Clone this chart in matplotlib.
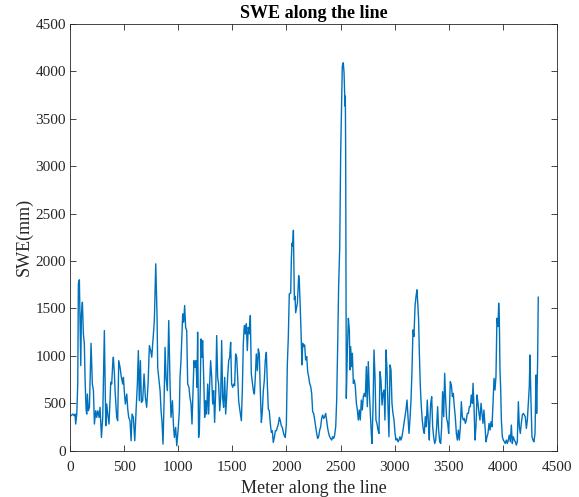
import matplotlib
matplotlib.use('Agg')
import matplotlib.pyplot as plt

# distance along the line (m) and SWE (mm)
meters = [9, 25, 37, 46, 52, 62, 71, 77, 86, 92, 99, 105, 114, 123, 132, 139, 148, 154, 160, 169,
          179, 194, 206, 216, 225, 237, 246, 256, 268, 277, 290, 302, 317, 330, 339, 348, 360, 370, 376, 385,
          394, 400, 410, 416, 431, 440, 450, 462, 474, 487, 493, 502, 511, 524, 533, 542, 554, 564, 573, 585,
          598, 610, 622, 631, 640, 650, 659, 671, 684, 696, 708, 721, 733, 745, 755, 764, 779, 792, 804, 810,
          819, 832, 841, 850, 859, 869, 878, 887, 899, 912, 924, 933, 946, 955, 964, 976, 986, 998, 1010, 1016,
          1025, 1041, 1050, 1059, 1068, 1078, 1087, 1099, 1108, 1118, 1127, 1136, 1145, 1155, 1164, 1173, 1179, 1188, 1195, 1204,
          1210, 1219, 1225, 1235, 1244, 1253, 1262, 1272, 1281, 1290, 1299, 1309, 1318, 1327, 1336, 1346, 1355, 1364, 1373, 1383,
          1392, 1401, 1410, 1419, 1429, 1438, 1447, 1456, 1466, 1475, 1484, 1493, 1503, 1512, 1521, 1530, 1540, 1549, 1558, 1570,
          1583, 1592, 1601, 1610, 1620, 1629, 1638, 1647, 1657, 1666, 1675, 1684, 1694, 1703, 1712, 1721, 1731, 1740, 1749, 1758,
          1768, 1777, 1786, 1795, 1804, 1814, 1823, 1832, 1841, 1851, 1860, 1869, 1878, 1888, 1897, 1906, 1915, 1925, 1934, 1943,
          1952, 1962, 1971, 1980, 1989, 1999, 2008, 2017, 2026, 2039, 2045, 2051, 2057, 2064, 2070, 2073, 2079, 2085, 2101, 2113,
          2119, 2125, 2134, 2143, 2150, 2159, 2168, 2177, 2187, 2196, 2205, 2214, 2224, 2233, 2242, 2251, 2261, 2270, 2279, 2288,
          2297, 2307, 2316, 2325, 2334, 2344, 2353, 2362, 2371, 2381, 2390, 2399, 2408, 2418, 2427, 2436, 2445, 2455, 2464, 2473,
          2482, 2492, 2501, 2516, 2525, 2532, 2538, 2541, 2544, 2547, 2550, 2553, 2562, 2572, 2581, 2587, 2593, 2602, 2609, 2618,
          2627, 2636, 2646, 2655, 2664, 2673, 2682, 2692, 2701, 2710, 2719, 2729, 2738, 2747, 2756, 2766, 2775, 2784, 2790, 2800,
          2809, 2818, 2827, 2836, 2846, 2855, 2864, 2873, 2883, 2892, 2901, 2910, 2920, 2929, 2938, 2947, 2957, 2966, 2975, 2984,
          2994, 3003, 3012, 3021, 3031, 3040, 3049, 3058, 3067, 3077, 3086, 3095, 3104, 3114, 3123, 3132, 3141, 3151, 3160, 3169,
          3178, 3188, 3197, 3206, 3215, 3221, 3228, 3237, 3246, 3255, 3265, 3274, 3283, 3292, 3301, 3311, 3320, 3323, 3333, 3342,
          3351, 3360, 3370, 3379, 3388, 3397, 3406, 3416, 3425, 3434, 3443, 3453, 3462, 3471, 3480, 3490, 3499, 3508, 3514, 3524,
          3533, 3542, 3551, 3560, 3570, 3579, 3588, 3597, 3607, 3616, 3625, 3634, 3644, 3653, 3662, 3671, 3681, 3690, 3699, 3708,
          3718, 3724, 3733, 3742, 3751, 3761, 3770, 3779, 3788, 3798, 3807, 3816, 3825, 3835, 3844, 3853, 3862, 3872, 3881, 3890,
          3899, 3909, 3918, 3927, 3936, 3945, 3955, 3961, 3967, 3973, 3979, 3986, 3995, 4004, 4013, 4022, 4032, 4041, 4050, 4059,
          4069, 4078, 4087, 4096, 4106, 4115, 4124, 4133, 4143, 4152, 4161, 4170, 4180, 4189, 4198, 4207, 4217, 4226, 4235, 4244,
          4250, 4260, 4269, 4278, 4287, 4297, 4306, 4312, 4321, 4327]

swe = [370, 387, 370, 387, 282, 387, 704, 1760, 1802, 1408, 898, 1443, 1566, 1232, 1126, 739, 440, 387, 598, 422,
       458, 1133, 704, 634, 282, 422, 352, 422, 352, 458, 141, 352, 1267, 264, 493, 387, 282, 563, 722, 704,
       915, 986, 810, 634, 352, 317, 950, 880, 774, 704, 774, 616, 493, 598, 440, 352, 317, 106, 387, 352,
       106, 422, 704, 1056, 528, 950, 510, 528, 810, 563, 458, 704, 1109, 1056, 986, 1126, 1373, 1971, 1408, 880,
       774, 634, 422, 299, 70, 528, 1091, 774, 634, 1373, 704, 352, 528, 282, 141, 246, 53, 211, 422, 774,
       950, 1443, 1355, 1531, 1302, 1267, 704, 669, 563, 493, 282, 598, 950, 880, 950, 669, 1250, 141, 211, 704,
       1179, 986, 1162, 774, 352, 528, 387, 704, 387, 704, 950, 774, 493, 634, 299, 634, 1214, 774, 704, 422,
       563, 1162, 563, 458, 774, 387, 563, 774, 950, 986, 1144, 704, 669, 704, 686, 1021, 986, 774, 528, 422,
       317, 634, 1126, 1320, 1232, 1338, 1056, 1302, 1232, 1426, 810, 722, 634, 598, 774, 1021, 845, 1074, 1021, 634,
       299, 422, 634, 739, 950, 1038, 704, 440, 422, 282, 194, 211, 88, 141, 211, 211, 246, 282, 352, 317,
       264, 246, 194, 158, 141, 282, 915, 1197, 1654, 1663, 2015, 2190, 2155, 2324, 1840, 1593, 1630, 1455, 1558, 1846,
       1769, 1591, 1274, 905, 1133, 1098, 1116, 957, 993, 834, 781, 711, 676, 605, 412, 394, 324, 253, 183, 130,
       148, 218, 253, 341, 377, 341, 359, 394, 324, 236, 183, 148, 130, 113, 148, 130, 165, 253, 535, 1098,
       1732, 2140, 3144, 4054, 4090, 3985, 3774, 3633, 3738, 3144, 1737, 553, 1028, 1397, 1274, 852, 1098, 887, 1028, 711,
       746, 676, 500, 430, 324, 430, 324, 535, 430, 570, 605, 570, 887, 465, 940, 605, 394, 183, 77, 465,
       1063, 781, 324, 289, 218, 183, 834, 746, 482, 605, 641, 324, 1063, 852, 465, 148, 905, 852, 500, 394,
       324, 183, 113, 130, 95, 113, 148, 113, 148, 218, 289, 359, 430, 535, 359, 183, 324, 535, 852, 1274,
       1204, 1521, 1626, 1697, 1521, 1380, 1028, 676, 465, 324, 218, 183, 359, 253, 535, 324, 113, 253, 500, 570,
       253, 148, 77, 113, 253, 465, 218, 95, 77, 253, 623, 359, 817, 535, 341, 289, 183, 500, 729, 693,
       570, 605, 465, 359, 183, 113, 218, 113, 253, 517, 359, 324, 341, 289, 324, 394, 394, 465, 465, 588,
       500, 711, 465, 113, 253, 588, 500, 394, 324, 500, 394, 289, 429, 253, 95, 148, 183, 289, 218, 306,
       253, 500, 764, 641, 781, 1397, 1309, 1556, 1397, 852, 676, 324, 148, 113, 95, 77, 113, 77, 113, 165,
       95, 271, 77, 148, 113, 95, 60, 95, 517, 253, 183, 289, 377, 394, 377, 359, 236, 324, 500, 676,
       1010, 500, 148, 113, 95, 183, 799, 394, 957, 1619]

x_ticks = [0, 500, 1000, 1500, 2000, 2500, 3000, 3500, 4000, 4500]
y_ticks = [0, 500, 1000, 1500, 2000, 2500, 3000, 3500, 4000, 4500]

plt.rcParams['font.family'] = ['Liberation Serif', 'DejaVu Serif']

fig = plt.figure(figsize=(5.79, 4.97), dpi=100)
ax = fig.add_axes([0.121, 0.093, 0.841, 0.859])
ax.plot(meters, swe, color='#0072BD', linewidth=1.0)

ax.set_xlim(0, 4500)
ax.set_ylim(0, 4500)
ax.set_xticks(x_ticks)
ax.set_yticks(y_ticks)
ax.tick_params(direction='in', top=True, right=True, length=4, width=0.6,
               colors='#262626', labelsize=11, pad=3)
ax.tick_params(axis='x', pad=7)
for spine in ax.spines.values():
    spine.set_linewidth(0.6)
    spine.set_color('#262626')

ax.set_xlabel('Meter along the line', fontsize=13, color='#262626', labelpad=5)
ax.set_ylabel('SWE(mm)', fontsize=13, color='#262626', labelpad=2)
ax.set_title('SWE along the line', fontsize=13, fontweight='bold', pad=4)

fig.savefig('out.png', dpi=100)
